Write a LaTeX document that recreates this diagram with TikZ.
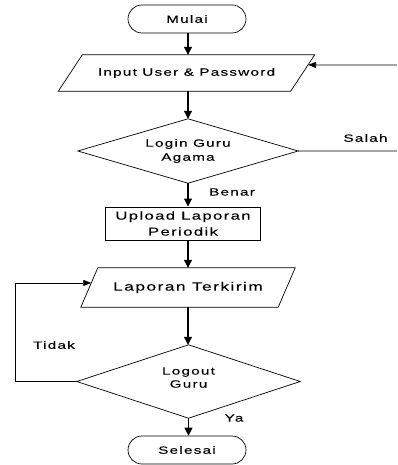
\documentclass[tikz,border=0pt]{standalone}
\usepackage{fontspec}
\setmainfont{Liberation Sans}[FakeStretch=1.45,LetterSpace=12,FakeBold=0.15]
\usetikzlibrary{shapes.misc,arrows.meta,calc}
\begin{document}
\begin{tikzpicture}[x=1pt,y=-1pt,
  every node/.style={font=\fontsize{10.5}{14}\selectfont},
  term/.style={rounded rectangle, draw, line width=0.7pt, minimum width=118pt, minimum height=28pt, inner sep=0pt},
  box/.style={rectangle, inner sep=0pt, align=center},
  outline/.style={line width=0.7pt},
  proc/.style={rectangle, draw, line width=1pt, minimum width=155pt, minimum height=33pt, inner sep=0pt, align=center},
  arr/.style={line width=1.1pt, -{Triangle[length=8pt,width=8pt]}},
  fb/.style={line width=0.7pt, -{Triangle[length=8pt,width=6pt]}},
  lbl/.style={inner sep=0pt}]
\useasboundingbox (0,0) rectangle (397,465);
\clip (0,0) rectangle (397,465);
% nodes
\node[term] (mulai) at (187,19) {Mulai};
\node[box, minimum width=232pt, minimum height=36pt] (input) at (186.5,73) {Input User \& Password};
\node[box, minimum width=220pt, minimum height=64pt] (login) at (188,151) {Login Guru\\Agama};
\node[proc, font=\fontsize{11.5}{16}\selectfont] (upload) at (183,223.5) {Upload Laporan\\Periodik};
\node[box, minimum width=197pt, minimum height=39pt, font=\fontsize{12}{14}\selectfont] (lapor) at (188,287.5) {Laporan Terkirim};
\node[box, minimum width=223pt, minimum height=73pt, font=\fontsize{10.5}{13}\selectfont] (logout) at (188.5,381.5) {Logout\\Guru\\[-5pt]\mbox{}};
\node[term] (selesai) at (187,450) {Selesai};
% outlines
\draw[outline] ([xshift=12pt]input.north west) -- ([xshift=12pt]input.north east) -- ([xshift=-12pt]input.south east) -- ([xshift=-12pt]input.south west) -- cycle;
\draw[outline] (login.north) -- (login.east) -- (login.south) -- (login.west) -- cycle;
\draw[outline] ([xshift=8.5pt]lapor.north west) -- ([xshift=8.5pt]lapor.north east) -- ([xshift=-8.5pt]lapor.south east) -- ([xshift=-8.5pt]lapor.south west) -- cycle;
\draw[outline] (logout.north) -- (logout.east) -- (logout.south) -- (logout.west) -- cycle;
% connectors
\draw[arr] (login.north |- mulai.south) -- (login.north |- input.north);
\draw[arr] (login.north |- input.south) -- (login.north);
\draw[arr] (login.south) -- (login.south |- upload.north);
\draw[arr] (lapor.north |- upload.south) -- (lapor.north);
\draw[arr] (lapor.south) -- (lapor.south |- logout.north);
\draw[arr] (logout.south) -- (logout.south |- selesai.north);
\coordinate (r1) at (410,151);
\coordinate (r2) at (410,65);
\draw[fb] (login.east) -- (r1) -- (r2) -- ($([xshift=12pt]input.north east)!10/36!([xshift=-12pt]input.south east)$);
\coordinate (l1) at (15,381.5);
\draw[fb] (logout.west) -- (l1) |- ($([xshift=8.5pt]lapor.north west)!15/39!([xshift=-8.5pt]lapor.south west)$);
% labels
\node[lbl] (salah) at (365.5,138) {Salah};
\node[lbl] (benar) at (232,192) {Benar};
\node[lbl] (tidak) at (54,345) {Tidak};
\node[lbl] (ya) at (234,418) {Ya};
\end{tikzpicture}
\end{document}
